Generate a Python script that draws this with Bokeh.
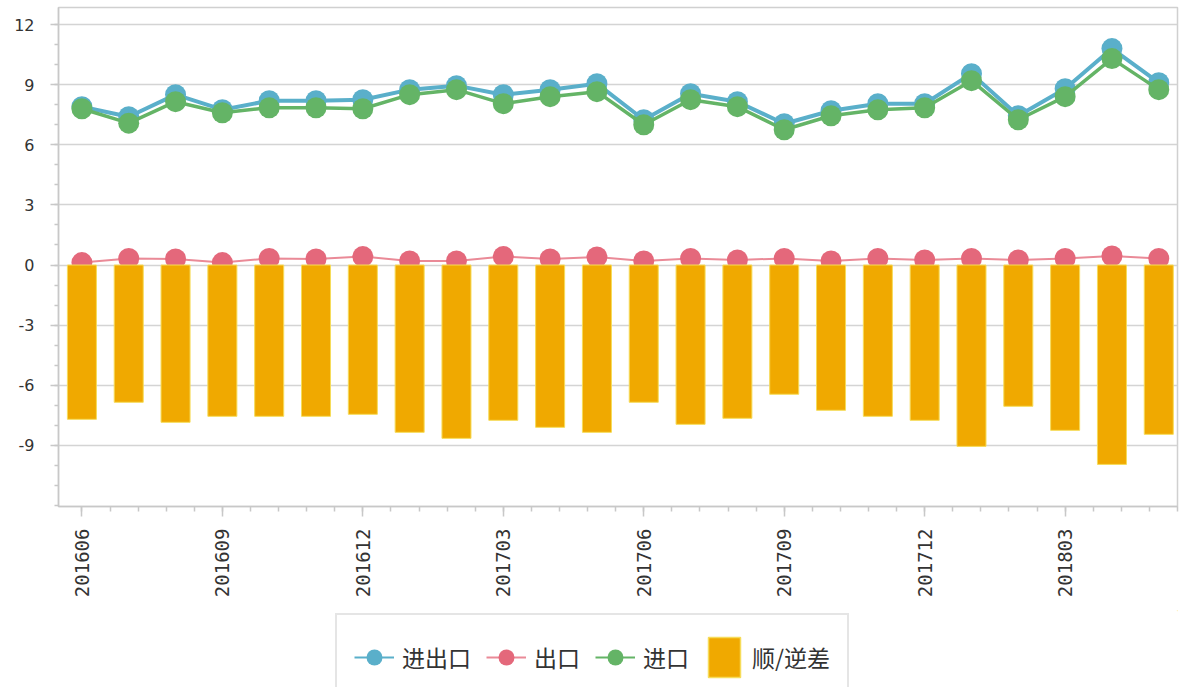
import math
from bokeh.plotting import figure
from bokeh.layouts import column
from bokeh.models import (Range1d, FixedTicker, Legend, LegendItem, ColumnDataSource)
from bokeh.embed import file_html
from bokeh.resources import INLINE

months = ["201606", "201607", "201608", "201609", "201610", "201611", "201612",
          "201701", "201702", "201703", "201704", "201705", "201706", "201707",
          "201708", "201709", "201710", "201711", "201712", "201801", "201802",
          "201803", "201804", "201805"]
total = [7.9, 7.4, 8.5, 7.75, 8.2, 8.2, 8.25, 8.75, 8.95, 8.5, 8.75, 9.05,
         7.25, 8.55, 8.15, 7.05, 7.7, 8.05, 8.05, 9.55, 7.45, 8.8, 10.8, 9.1]
imports = [7.8, 7.08, 8.15, 7.6, 7.85, 7.85, 7.8, 8.5, 8.75, 8.05, 8.4, 8.65,
           7.0, 8.25, 7.9, 6.75, 7.45, 7.75, 7.85, 9.2, 7.25, 8.4, 10.3, 8.75]
exports = [0.12, 0.33, 0.3, 0.12, 0.33, 0.3, 0.42, 0.2, 0.2, 0.42, 0.3, 0.4,
           0.2, 0.33, 0.25, 0.33, 0.2, 0.33, 0.25, 0.33, 0.25, 0.33, 0.45, 0.33]
balance = [-7.7, -6.85, -7.85, -7.55, -7.55, -7.55, -7.45, -8.35, -8.65, -7.75,
           -8.1, -8.35, -6.85, -7.95, -7.65, -6.45, -7.25, -7.55, -7.75, -9.05,
           -7.05, -8.25, -9.95, -8.45]
series_names = ["进出口", "出口", "进口", "顺/逆差"]
y_ticks = [-9, -6, -3, 0, 3, 6, 9, 12]

idx = list(range(len(months)))
src = ColumnDataSource(dict(x=idx, total=total, imp=imports, exp=exports, bal=balance))

blue = "#5aafca"
green = "#64b466"
red = "#e4687b"
red_line = "#ea8a97"
orange = "#f0a900"
bar_edge = "#f6dc5a"

p = figure(width=1184, height=610, output_backend="svg", toolbar_location=None,
           x_range=Range1d(-0.5, 23.4), y_range=Range1d(-12.05, 12.85),
           min_border_left=58, min_border_right=7, min_border_top=7,
           min_border_bottom=104)
p.background_fill_color = "white"
p.border_fill_color = "white"
p.outline_line_color = "#d0d0d0"
p.outline_line_width = 1.5

p.line("x", "total", source=src, line_color=blue, line_width=4)
p.scatter("x", "total", source=src, size=21, fill_color=blue, line_color=None)
p.line("x", "imp", source=src, line_color=green, line_width=3.5)
p.scatter("x", "imp", source=src, size=21, fill_color=green, line_color=None)
p.line("x", "exp", source=src, line_color=red_line, line_width=2)
p.scatter("x", "exp", source=src, size=21, fill_color=red, line_color=None)
p.vbar(x="x", top="bal", bottom=0, width=0.62, source=src,
       fill_color=orange, line_color=bar_edge, line_width=1)

# axes
xa = p.xaxis[0]
xa.ticker = FixedTicker(ticks=[i for i in idx if i % 3 == 0],
                        minor_ticks=[round(0.6 * k, 2) for k in range(0, 40)])
xa.major_label_overrides = {i: months[i] for i in idx if i % 3 == 0}
xa.major_label_orientation = math.pi / 2
xa.major_label_text_font = "DejaVu Sans Mono"
xa.major_label_text_font_size = "19px"
xa.major_label_text_color = "#333333"
xa.major_label_standoff = 12
xa.major_tick_out = 10
xa.major_tick_in = 0
xa.minor_tick_out = 5
xa.minor_tick_in = 0

ya = p.yaxis[0]
ya.ticker = FixedTicker(ticks=y_ticks, minor_ticks=list(range(-12, 13)))
ya.major_label_overrides = {t: str(t) for t in y_ticks}
ya.major_label_text_font = "DejaVu Sans"
ya.major_label_text_font_size = "16px"
ya.major_label_text_color = "#333333"
ya.major_label_standoff = 16
ya.major_tick_out = 8
ya.major_tick_in = 0
ya.minor_tick_out = 4
ya.minor_tick_in = 0

for ax in (xa, ya):
    ax.axis_line_color = "#c8c8c8"
    ax.axis_line_width = 1.5
    ax.major_tick_line_color = "#c8c8c8"
    ax.major_tick_line_width = 1.5
    ax.minor_tick_line_color = "#c8c8c8"
    ax.minor_tick_line_width = 1.5

p.xgrid.visible = False
p.ygrid[0].ticker = ya.ticker
p.ygrid.grid_line_color = "#d4d4d4"
p.ygrid.grid_line_width = 1.5

# legend strip (separate figure so the legend box can run off the bottom edge)
p2 = figure(width=1184, height=77, output_backend="svg", toolbar_location=None,
            x_range=Range1d(0, 1), y_range=Range1d(0, 1),
            x_axis_location=None, y_axis_location=None,
            min_border=0)
p2.outline_line_color = None
p2.grid.visible = False
# legend-only renderers: one point kept outside the visible range
off = ColumnDataSource(dict(x=[5], y=[5], t=[6]))
lt = p2.line("x", "y", source=off, line_color=blue, line_width=2)
ct = p2.scatter("x", "y", source=off, fill_color=blue, line_color=None)
le = p2.line("x", "y", source=off, line_color=red_line, line_width=2)
ce = p2.scatter("x", "y", source=off, fill_color=red, line_color=None)
li = p2.line("x", "y", source=off, line_color=green, line_width=2)
ci = p2.scatter("x", "y", source=off, fill_color=green, line_color=None)
bb = p2.vbar(x="x", top="t", bottom="y", width=0.5, source=off,
             fill_color=orange, line_color=bar_edge, line_width=1.5)

legend = Legend(items=[
    LegendItem(label=series_names[0], renderers=[lt, ct]),
    LegendItem(label=series_names[1], renderers=[le, ce]),
    LegendItem(label=series_names[2], renderers=[li, ci]),
    LegendItem(label=series_names[3], renderers=[bb]),
], orientation="horizontal", location=(277, -14))
legend.label_text_font = "Noto Sans CJK SC"
legend.label_text_font_size = "23px"
legend.label_text_color = "#333333"
legend.glyph_width = 40
legend.glyph_height = 50
legend.label_standoff = 8
legend.spacing = 15
legend.padding = 17
legend.margin = 0
legend.border_line_color = "#cccccc"
legend.border_line_width = 2
legend.background_fill_color = "white"
legend.background_fill_alpha = 1
p2.add_layout(legend, "center")

open("out.html", "w").write(file_html(column(p, p2), INLINE))
